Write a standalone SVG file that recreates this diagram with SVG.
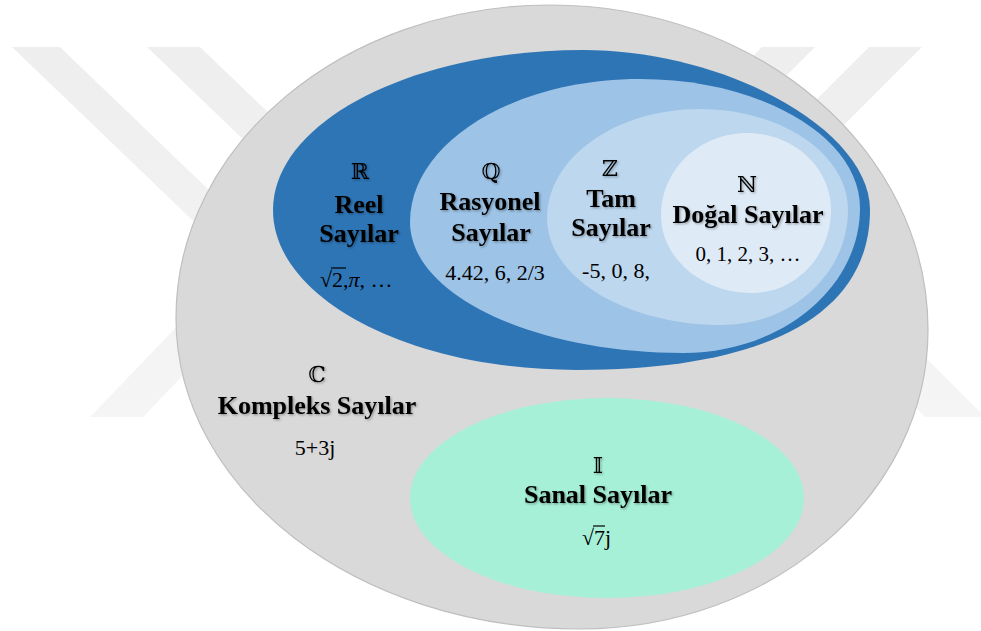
<svg xmlns="http://www.w3.org/2000/svg" width="981" height="631" viewBox="0 0 981 631">
<defs>
<style>
text { font-family: "Liberation Serif", "DejaVu Serif", serif; fill: #000; }
.lbl { font-family: "Liberation Serif", serif; font-weight: bold; font-size: 26px; text-anchor: middle; filter: url(#sh); }
.num { font-family: "Liberation Serif", serif; font-size: 22px; text-anchor: middle; }
.sym { font-size: 22px; text-anchor: middle; font-family: "DejaVu Serif", "Liberation Serif", serif; filter: url(#sh); }
.wm { fill: url(#wmg); }
.bar { stroke: #000; stroke-width: 1.2; }
</style>
<linearGradient id="wmg" gradientUnits="userSpaceOnUse" x1="0" y1="47" x2="0" y2="420">
<stop offset="0" stop-color="#eeeeee"/>
<stop offset="1" stop-color="#f5f5f5"/>
</linearGradient>
<filter id="sh" x="-10%" y="-30%" width="130%" height="160%">
<feDropShadow dx="1.2" dy="1.2" stdDeviation="0.9" flood-color="#000" flood-opacity="0.35"/>
</filter>
</defs>
<rect width="981" height="631" fill="#fff"/>
<g id="watermark">
<polygon class="wm" points="12,47 60,47 310,287 262,287"/>
<polygon class="wm" points="147,47 200,47 400,239 347,239"/>
<polygon class="wm" points="90,417 143,417 263,292 210,292"/>
<polygon class="wm" points="762,47 815,47 715,147 662,147"/>
<polygon class="wm" points="869,47 922,47 802,167 749,167"/>
<polygon class="wm" points="925,417 985,417 885,317 825,317"/>
</g>
<g id="complex">
<path d="M176,318 C176,145.1 343.4,5 550,5 C758.8,5 928,150.5 928,330 C928,495.1 772.2,629 580,629 C356.9,629 176,489.8 176,318 Z" fill="#d9d9d9" stroke="#bfbfbf" stroke-width="1.2"/>
<text class="sym" x="317" y="382">ℂ</text>
<text class="lbl" x="317" y="414">Kompleks Sayılar</text>
<text class="num" x="315" y="455">5+3j</text>
</g>
<g id="real">
<path d="M273,210 C273,121.6 411.8,50 583,50 C726.5,50 870,130 870,210 C870,314 767.5,370 577,370 C409.1,370 273,298.4 273,210 Z" fill="#2e75b6"/>
<text class="sym" x="360" y="179">ℝ</text>
<text class="lbl" x="359" y="213">Reel</text>
<text class="lbl" x="359" y="242">Sayılar</text>
<text class="num" x="320" y="287" style="text-anchor:start">√2,<tspan font-style="italic">π</tspan>, …</text>
<line class="bar" x1="331" y1="268" x2="346" y2="268"/>
</g>
<g id="rational">
<path d="M410,222 C410,143 513,79 640,79 C761.5,79 860,136.8 860,208 C860,288.1 780.8,353 683,353 C532.2,353 410,294.4 410,222 Z" fill="#9dc3e6"/>
<text class="sym" x="491" y="179">ℚ</text>
<text class="lbl" x="490" y="210">Rasyonel</text>
<text class="lbl" x="491" y="241">Sayılar</text>
<text class="num" x="495" y="280">4.42, 6, 2/3</text>
</g>
<g id="integer">
<path d="M547,218 C547,157.8 615.5,109 700,109 C781.7,109 848,154.2 848,210 C848,273.5 791.6,325 722,325 C625.3,325 547,277.1 547,218 Z" fill="#bdd7ee"/>
<text class="sym" x="610" y="176">ℤ</text>
<text class="lbl" x="611" y="207">Tam</text>
<text class="lbl" x="611" y="236">Sayılar</text>
<text class="num" x="616" y="278">-5, 0, 8,</text>
</g>
<g id="natural">
<path d="M661,215 C661,169.7 699.5,133 747,133 C793.4,133 831,167.5 831,210 C831,255.8 795.6,293 752,293 C701.7,293 661,258.1 661,215 Z" fill="#deebf7"/>
<text class="sym" x="747" y="192">ℕ</text>
<text class="lbl" x="748" y="223">Doğal Sayılar</text>
<text class="num" x="748" y="261" style="font-size:21px">0, 1, 2, 3, …</text>
</g>
<g id="imaginary">
<ellipse cx="607" cy="498" rx="197" ry="100" fill="#a6f0d8"/>
<text class="sym" x="598" y="473">𝕀</text>
<text class="lbl" x="598" y="503">Sanal Sayılar</text>
<text class="num" x="582" y="545" style="text-anchor:start">√7j</text>
<line class="bar" x1="593" y1="526" x2="605" y2="526"/>
</g>
</svg>
